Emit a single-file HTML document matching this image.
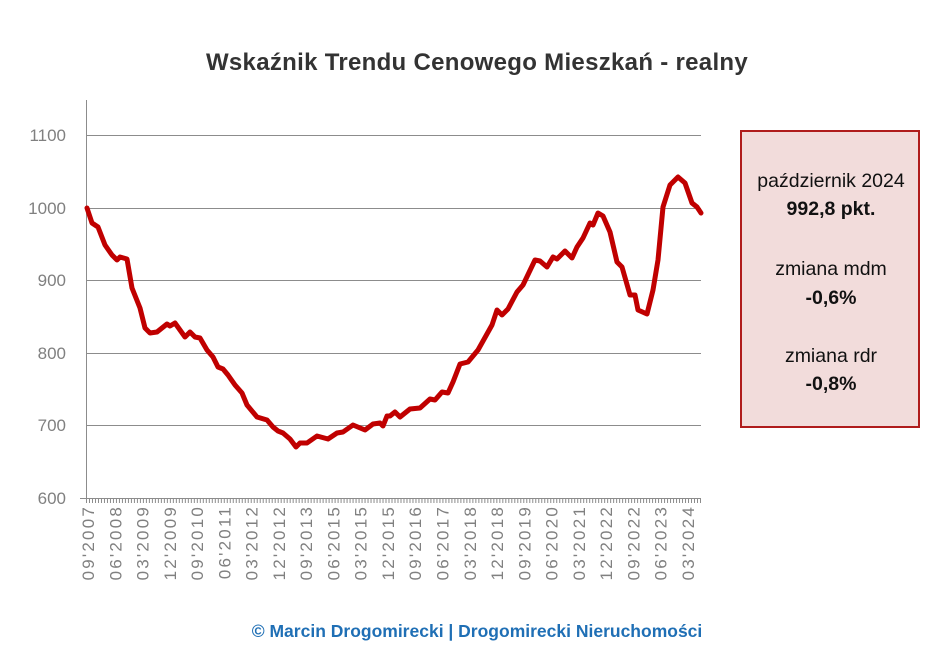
<!DOCTYPE html>
<html><head><meta charset="utf-8"><style>
body{margin:0;background:#fff;}
svg{display:block;font-family:"Liberation Sans",sans-serif;}
</style></head><body>
<svg width="950" height="671" viewBox="0 0 950 671" xmlns="http://www.w3.org/2000/svg">
<rect width="950" height="671" fill="#fff"/>
<text x="477" y="70" text-anchor="middle" font-size="24" font-weight="bold" fill="#333" letter-spacing="0.3">Wskaźnik Trendu Cenowego Mieszkań - realny</text>
<g stroke="#8c8c8c" stroke-width="1">
<line x1="86" y1="135.5" x2="701" y2="135.5"/>
<line x1="86" y1="208.5" x2="701" y2="208.5"/>
<line x1="86" y1="280.5" x2="701" y2="280.5"/>
<line x1="86" y1="353.5" x2="701" y2="353.5"/>
<line x1="86" y1="425.5" x2="701" y2="425.5"/>
<line x1="80" y1="498.5" x2="701" y2="498.5"/>
<line x1="86.5" y1="100" x2="86.5" y2="498"/>
</g>
<g stroke="#8c8c8c" stroke-width="1" id="ticks"></g>
<g font-size="17" fill="#808080" text-anchor="end">
<text x="66" y="141">1100</text>
<text x="66" y="214">1000</text>
<text x="66" y="286">900</text>
<text x="66" y="359">800</text>
<text x="66" y="431">700</text>
<text x="66" y="504">600</text>
</g>
<g font-size="17" fill="#808080" text-anchor="end" letter-spacing="2.2" id="xl"></g>
<polyline fill="none" stroke="#c00000" stroke-width="5" stroke-linejoin="round" stroke-linecap="round" points="
87,208 92,223 98,227 105,245 112,255 117,260 120,257 127,259 132,288 140,308 145,328 150,333 157,332 167,324 170,326 175,323 180,330 185,337 190,332 195,337 200,338 207,350 213,357 218,367 223,369 228,375 235,385 242,393 247,405 257,417 267,420 273,427 278,431 283,433 290,439 296,447 300,443 307,443 317,436 328,439 337,433 343,432 353,425 365,430 373,424 380,423 383,426 387,416 390,416 395,412 400,417 410,409 420,408 430,399 435,400 442,392 448,393 453,382 460,364 468,362 478,350 492,325 497,310 502,315 508,309 517,292 523,285 535,260 540,261 547,267 553,257 557,259 565,251 572,258 577,247 583,238 590,223 593,225 598,213 603,216 610,232 617,262 622,267 630,295 635,295 638,310 647,314 653,290 658,260 663,207 670,185 678,177 685,183 692,203 697,207 701,213"/>
<rect x="741" y="131" width="178" height="296" fill="#f2dcdb" stroke="#b01c1c" stroke-width="2"/>
<g font-size="19.5" fill="#111" text-anchor="middle">
<text x="831" y="187">październik 2024</text>
<text x="831" y="215" font-weight="bold">992,8 pkt.</text>
<text x="831" y="275">zmiana mdm</text>
<text x="831" y="304" font-weight="bold">-0,6%</text>
<text x="831" y="362">zmiana rdr</text>
<text x="831" y="390" font-weight="bold">-0,8%</text>
</g>
<text x="477" y="637" text-anchor="middle" font-size="17.5" font-weight="bold" fill="#1f6fb5">© Marcin Drogomirecki | Drogomirecki Nieruchomości</text>
<script>
var ns="http://www.w3.org/2000/svg";
var t=document.getElementById("ticks");
for(var i=0;i<=205;i++){var x=86.5+i*(614/205);var l=document.createElementNS(ns,"line");l.setAttribute("x1",x);l.setAttribute("x2",x);l.setAttribute("y1",498);l.setAttribute("y2",503);t.appendChild(l);}
var labs=["09'2007","06'2008","03'2009","12'2009","09'2010","06'2011","03'2012","12'2012","09'2013","06'2015","03'2015","12'2015","09'2016","06'2017","03'2018","12'2018","09'2019","06'2020","03'2021","12'2022","09'2022","06'2023","03'2024"];
var g=document.getElementById("xl");
labs.forEach(function(s,k){var x=88+k*27.27+6;var tx=document.createElementNS(ns,"text");tx.setAttribute("transform","translate("+x+",505) rotate(-90)");tx.textContent=s;g.appendChild(tx);});
</script>
</svg>
</body></html>
